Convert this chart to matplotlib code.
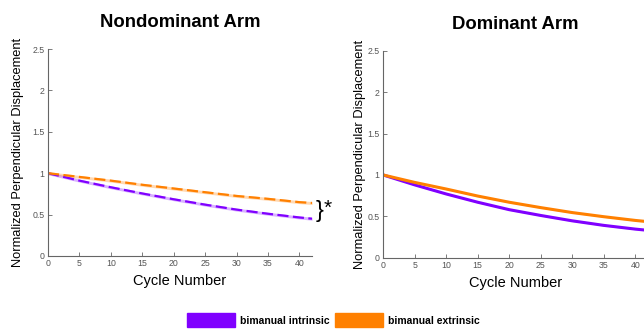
import numpy as np
import matplotlib
matplotlib.use("Agg")
import matplotlib.pyplot as plt
from matplotlib.patches import Patch

plt.rcParams['font.family'] = ['Liberation Sans', 'DejaVu Sans']

# ==================
# Data
# ==================
cycles = [0, 5, 10, 15, 20, 25, 30, 35, 40, 42]

nondom_intrinsic = [1.0, 0.91, 0.83, 0.755, 0.685, 0.62, 0.56, 0.51, 0.465, 0.45]
nondom_extrinsic = [1.0, 0.955, 0.91, 0.86, 0.815, 0.77, 0.725, 0.69, 0.65, 0.64]
nondom_sem = 0.018

dom_intrinsic = [1.0, 0.88, 0.77, 0.67, 0.58, 0.51, 0.445, 0.39, 0.345, 0.33]
dom_extrinsic = [1.0, 0.91, 0.83, 0.745, 0.67, 0.605, 0.545, 0.495, 0.45, 0.435]
dom_sem = 0.008

labels = ['bimanual intrinsic', 'bimanual extrinsic']
purple = '#8000ff'
orange = '#ff8000'

xticks = [0, 5, 10, 15, 20, 25, 30, 35, 40]
yticks = [0, 0.5, 1, 1.5, 2, 2.5]
ytick_labels = ['0', '0.5', '1', '1.5', '2', '2.5']


def style_axis(ax, title, ylabelpad):
    ax.set_xlim(0, 42)
    ax.set_ylim(0, 2.5)
    ax.set_xticks(xticks)
    ax.set_yticks(yticks)
    ax.set_yticklabels(ytick_labels)
    for side in ['top', 'right']:
        ax.spines[side].set_visible(False)
    for side in ['left', 'bottom']:
        ax.spines[side].set_color('#666666')
        ax.spines[side].set_linewidth(0.8)
    ax.tick_params(direction='in', length=3, width=0.6, colors='#666666',
                   labelsize=6.3, labelcolor='#555555', pad=2.5)
    ax.set_xlabel('Cycle Number', fontsize=10.5, labelpad=4)
    ax.set_ylabel('Normalized Perpendicular Displacement', fontsize=9.3, labelpad=ylabelpad)
    ax.set_title(title, fontsize=13.3, fontweight='bold', pad=16)


fig = plt.figure(figsize=(6.44, 3.29), dpi=100)

# ==================
# Nondominant arm
# ==================
ax1 = fig.add_axes([0.0745, 0.222, 0.41, 0.629])
x = np.array(cycles)
for vals, c in [(nondom_intrinsic, purple), (nondom_extrinsic, orange)]:
    v = np.array(vals)
    ax1.fill_between(x, v - nondom_sem, v + nondom_sem, color=c, alpha=0.3, lw=0)
    ax1.plot(x, v, color=c, lw=1.6, ls=(0, (5, 2)))
style_axis(ax1, 'Nondominant Arm', 6)
ax1.text(42.5, 0.545, '}', fontsize=17, va='center', ha='left')
ax1.text(43.9, 0.57, '*', fontsize=15, va='center', ha='left')

# ==================
# Dominant arm
# ==================
ax2 = fig.add_axes([0.595, 0.217, 0.411, 0.628])
for vals, c in [(dom_intrinsic, purple), (dom_extrinsic, orange)]:
    v = np.array(vals)
    ax2.fill_between(x, v - dom_sem, v + dom_sem, color=c, alpha=0.3, lw=0)
    ax2.plot(x, v, color=c, lw=2.2)
style_axis(ax2, 'Dominant Arm', 1)

# ==================
# Legend
# ==================
handles = [Patch(facecolor=purple, edgecolor=purple),
           Patch(facecolor=orange, edgecolor=orange)]
fig.legend(handles, labels, loc='center', bbox_to_anchor=(0.518, 0.026),
           ncol=2, frameon=False, prop={'size': 7.5, 'weight': 'bold'},
           handlelength=4.6, handleheight=1.7, handletextpad=0.45,
           columnspacing=0.55, borderpad=0, borderaxespad=0)

plt.savefig('out.png', dpi=100)
plt.close()
